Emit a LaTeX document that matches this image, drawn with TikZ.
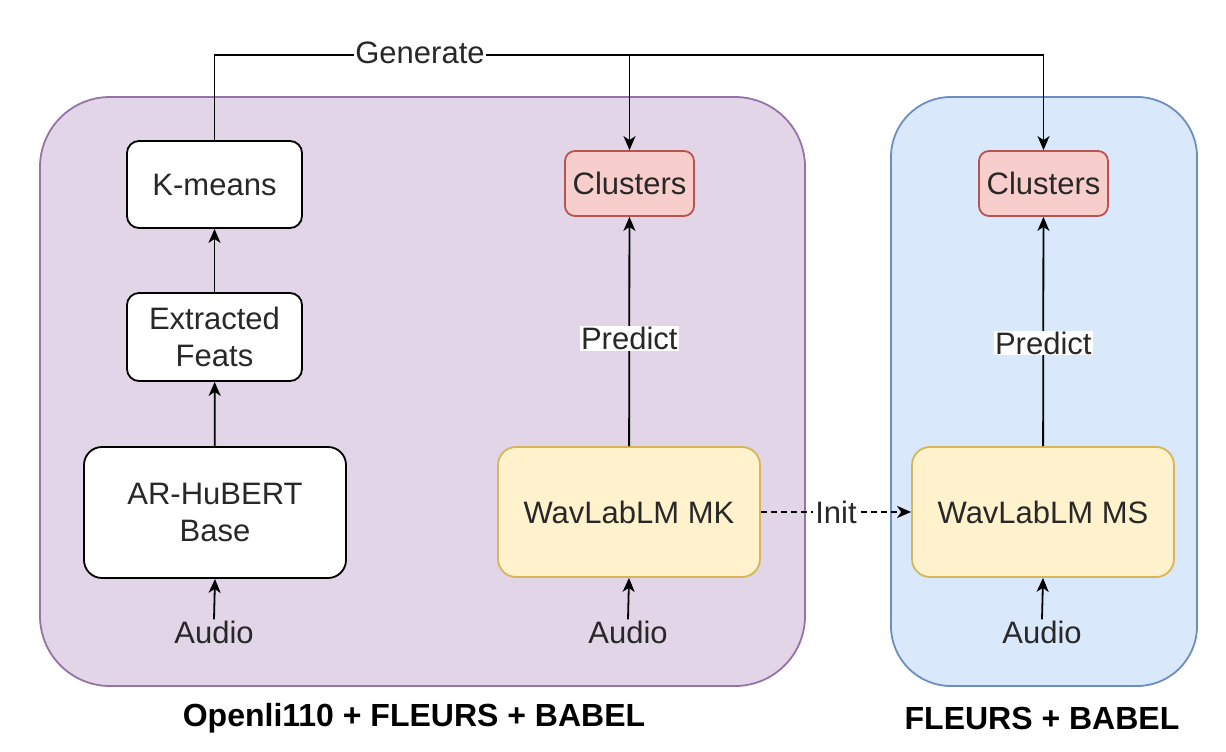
\documentclass[tikz,border=0pt]{standalone}
\usepackage{fontspec}
\setmainfont{Liberation Sans}
\usepackage{xcolor}
\usetikzlibrary{arrows.meta}

\definecolor{purpfill}{RGB}{225,213,231}
\definecolor{purpline}{RGB}{150,115,166}
\definecolor{bluefill}{RGB}{218,232,252}
\definecolor{blueline}{RGB}{108,142,191}
\definecolor{redfill}{RGB}{248,206,204}
\definecolor{redline}{RGB}{184,84,80}
\definecolor{yelfill}{RGB}{255,242,204}
\definecolor{yelline}{RGB}{214,182,86}
\definecolor{txt}{RGB}{40,40,40}

\begin{document}
\begin{tikzpicture}[x=1pt,y=1pt,yscale=-1,
  box/.style={draw, line width=1.8pt, rounded corners=12pt, align=center, text=txt,
    font=\fontsize{31}{37}\selectfont, inner sep=0pt},
  whitebox/.style={box, fill=white, draw=black},
  clbox/.style={box, fill=redfill, draw=redline, minimum width=129, minimum height=65, rounded corners=10pt},
  wavbox/.style={box, fill=yelfill, draw=yelline, minimum width=262, minimum height=130, rounded corners=18pt},
  lbl/.style={text=txt, font=\fontsize{31}{37}\selectfont, inner sep=1pt},
  ttl/.style={font=\bfseries\fontsize{32}{38}\selectfont},
  arr/.style={line width=1.8pt, -{Stealth[length=14pt,width=12pt,inset=4pt]}}]
\path (0,0) rectangle (1226,752);

% containers
\draw [fill=purpfill, draw=purpline, line width=1.8pt, rounded corners=70pt] (40,97) rectangle (805,686);
\draw [fill=bluefill, draw=blueline, line width=1.8pt, rounded corners=60pt] (891,97) rectangle (1197,686);

% left column
\node [whitebox, minimum width=175, minimum height=87] (kmeans) at (214.5,184.5) {K-means};
\node [whitebox, minimum width=175, minimum height=88] (feats) at (214.5,337) {Extracted\\Feats};
\node [whitebox, minimum width=262, minimum height=131, rounded corners=18pt] (hubert) at (215,512.5) {AR-HuBERT\\Base};
\node [lbl] (audioA) at (214,632) {Audio};

% middle column
\node [clbox] (clL) at (629.5,183.5) {Clusters};
\node [wavbox] (wavMK) at (629,512) {WavLabLM MK};
\node [lbl] (audioB) at (628,632) {Audio};

% right column
\node [clbox] (clR) at (1043.5,183.5) {Clusters};
\node [wavbox] (wavMS) at (1043,512) {WavLabLM MS};
\node [lbl] (audioC) at (1042,632) {Audio};

% arrows
\draw [arr] (audioA.north) -- (hubert.south);
\draw [arr] (hubert) -- (feats);
\draw [arr] (feats) -- (kmeans);
\draw [arr] (audioB.north) -- (wavMK.south);
\draw [arr] (audioC.north) -- (wavMS.south);
\draw [arr] (wavMK) -- node [lbl, fill=white, pos=0.47] (predL) {Predict} (clL);
\draw [arr] (wavMS) -- node [lbl, fill=white, pos=0.45] (predR) {Predict} (clR);
\draw [arr, dashed, dash pattern=on 6pt off 4pt] (wavMK) -- node [lbl, fill=white, inner sep=2pt] (init) {Init} (wavMS);

% Generate
\coordinate (split) at (clL.north |- 0,55);
\draw [arr] (kmeans.north) |- (split) -| (clR.north);
\draw [arr] (split) -- (clL.north);
\node [lbl, fill=white] (gen) at (420,53) {Generate};

% Text Node
\node [ttl] (titleA) at (414,718) {Openli110 + FLEURS + BABEL};
% Text Node
\node [ttl] (titleB) at (1042,718) {FLEURS + BABEL};
\end{tikzpicture}
\end{document}
